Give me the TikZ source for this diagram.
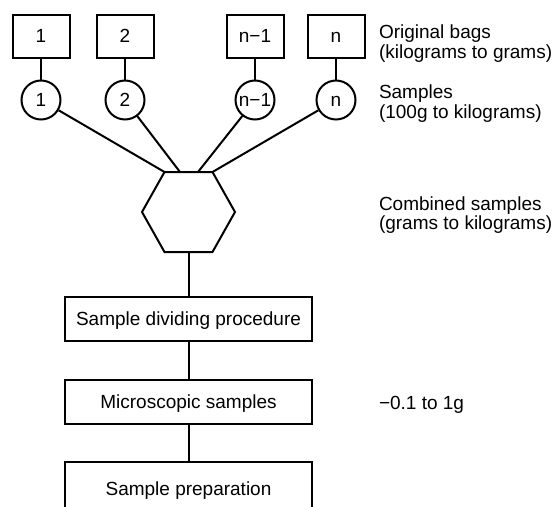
\documentclass[tikz,border=0pt]{standalone}
\usepackage{fontspec}
\setmainfont{Liberation Sans}
\begin{document}
\begin{tikzpicture}[x=1pt,y=-1pt, line width=2pt,
  every node/.style={font=\fontsize{19}{20}\selectfont},
  bag/.style={draw, minimum width=57pt, minimum height=43pt, inner sep=0pt, text height=13.6pt, text depth=0pt},
  smp/.style={draw, circle, minimum size=39pt, inner sep=0pt, text height=13.6pt, text depth=0pt},
  stage/.style={draw, minimum width=247pt, minimum height=44pt, inner sep=0pt, text height=13.6pt, text depth=0pt},
  lbl/.style={anchor=base west, inner sep=0pt}]
\useasboundingbox (0,0) rectangle (554,506);
\clip (0,0) rectangle (554,506);
% original bags
\node[bag] (b1) at (41,36) {1};
\node[bag] (b2) at (125,36) {2};
\node[bag] (b3) at (255,36) {n−1};
\node[bag] (b4) at (336,36) {n};
% samples
\node[smp] (s1) at (41,100) {1};
\node[smp] (s2) at (125,100) {2};
\node[smp] (s3) at (255,100) {n−1};
\node[smp] (s4) at (336,100) {n};
% combined hexagon
\coordinate (h1) at (164.5,172);
\coordinate (h2) at (212.5,172);
\coordinate (h3) at (235,212);
\coordinate (h4) at (212.5,252);
\coordinate (h5) at (164.5,252);
\coordinate (h6) at (142,212);
\coordinate (hA) at (180,172);
\coordinate (hB) at (198,172);
\coordinate (hbot) at (188.5,252);
\draw (h1) -- (h2) -- (h3) -- (h4) -- (h5) -- (h6) -- cycle;
% stages
\node[stage] (stA) at (188.5,319) {Sample dividing procedure};
\node[stage] (stB) at (188.5,402) {Microscopic samples};
\node[stage, minimum height=54pt] (stC) at (188.5,489) {Sample preparation};
% connectors
\draw (b1) -- (s1);
\draw (b2) -- (s2);
\draw (b3) -- (s3);
\draw (b4) -- (s4);
\draw (s1) -- (h1);
\draw (s2) -- (hA);
\draw (s3) -- (hB);
\draw (s4) -- (h2);
\draw (hbot) -- (stA);
\draw (stA) -- (stB);
\draw (stB) -- (stC);
% labels
\node[lbl] (l1a) at (378,38) {Original bags};
\node[lbl] (l1b) at (378,58) {(kilograms to grams)};
\node[lbl] (l2a) at (378,98) {Samples};
\node[lbl] (l2b) at (378,118) {(100g to kilograms)};
\node[lbl] (l3a) at (378,210) {Combined samples};
\node[lbl] (l3b) at (378,229.5) {(grams to kilograms)};
\node[lbl] (l4) at (378,409) {−0.1 to 1g};
\end{tikzpicture}
\end{document}
